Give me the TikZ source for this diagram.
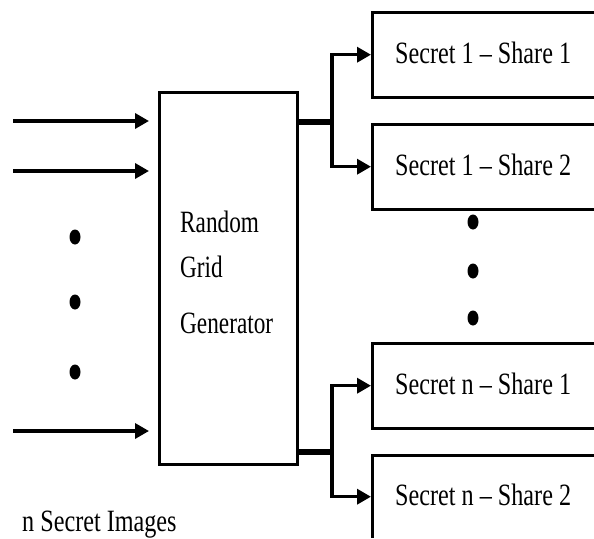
\documentclass[tikz,border=0pt]{standalone}
\usepackage{fontspec}
\setmainfont{Liberation Serif}[FakeStretch=0.75]
\newfontfamily\sharefont{Liberation Serif}[FakeStretch=0.78, Ligatures=TeX]
\usetikzlibrary{arrows.meta,shapes.geometric}
\begin{document}
\begin{tikzpicture}[x=1pt,y=-1pt,
  genbox/.style={draw, line width=2.8pt, minimum width=138pt, minimum height=372pt, inner sep=0pt, anchor=north west},
  sharebox/.style={minimum width=222pt, minimum height=85pt, inner sep=0pt, anchor=north west},
  openbox/.style={line width=3pt},
  arr/.style={line width=3.4pt, -{Triangle[length=14pt,width=15pt]}},
  stub/.style={line width=6pt},
  dotnode/.style={fill, ellipse, minimum width=11pt, minimum height=15pt, inner sep=0pt},
  lbl/.style={font=\fontsize{31}{36}\selectfont, inner sep=0pt},
  slbl/.style={font=\sharefont\fontsize{31}{36}\selectfont, inner sep=0pt}]
\useasboundingbox (0,0) rectangle (594,538);

% generator box
\node[genbox] (gen) at (158,91) {};
\node[lbl, anchor=base west] (g1) at (180,232) {Random};
\node[lbl, anchor=base west] (g2) at (180,277) {Grid};
\node[lbl, anchor=base west] (g3) at (180,333) {Generator};

% share boxes (open to the right edge)
\node[sharebox] (s1) at (372,12) {};
\node[sharebox] (s2) at (372,124) {};
\node[sharebox] (s3) at (372,343) {};
\node[sharebox, minimum height=83pt] (s4) at (372,455) {};
\draw[openbox] (s1.north east) -- (s1.north west) -- (s1.south west) -- (s1.south east);
\draw[openbox] (s2.north east) -- (s2.north west) -- (s2.south west) -- (s2.south east);
\draw[openbox] (s3.north east) -- (s3.north west) -- (s3.south west) -- (s3.south east);
\draw[openbox] (s4.north east) -- (s4.north west) -- (s4.south west);

\node[slbl, anchor=west] (s1t) at ([xshift=23pt,yshift=2pt]s1.west) {Secret 1 – Share 1};
\node[slbl, anchor=west] (s2t) at ([xshift=23pt,yshift=2pt]s2.west) {Secret 1 – Share 2};
\node[slbl, anchor=west] (s3t) at ([xshift=23pt,yshift=2pt]s3.west) {Secret n – Share 1};
\node[slbl, anchor=west] (s4t) at ([xshift=23pt,yshift=2pt]s4.west) {Secret n – Share 2};

% input arrows
\coordinate (in1) at (13,121);
\coordinate (in2) at (13,171);
\coordinate (in3) at (13,431);
\draw[arr, shorten >=9pt] (in1) -- (in1 -| gen.west);
\draw[arr, shorten >=9pt] (in2) -- (in2 -| gen.west);
\draw[arr, shorten >=9pt] (in3) -- (in3 -| gen.west);

% left dots
\node[dotnode] (d1) at (75,237) {};
\node[dotnode] (d2) at (75,302) {};
\node[dotnode] (d3) at (75,372) {};

% right dots
\node[dotnode] (d4) at (473,222) {};
\node[dotnode] (d5) at (473,271) {};
\node[dotnode] (d6) at (473,318) {};

% branches
\coordinate (b1) at (332,122);
\coordinate (b2) at (332,452);
\draw[stub] (b1 -| gen.east) -- (b1);
\draw[stub] (b2 -| gen.east) -- (b2);
\draw[arr, shorten >=1pt] (b1) |- (s1.west);
\draw[arr, shorten >=1pt] (b1) |- (s2.west);
\draw[arr, shorten >=1pt] (b2) |- (s3.west);
\draw[arr, shorten >=1pt] (b2) |- (s4.west);

% caption
\node[slbl, anchor=base west] (cap) at (22,531) {n Secret Images};
\end{tikzpicture}
\end{document}
